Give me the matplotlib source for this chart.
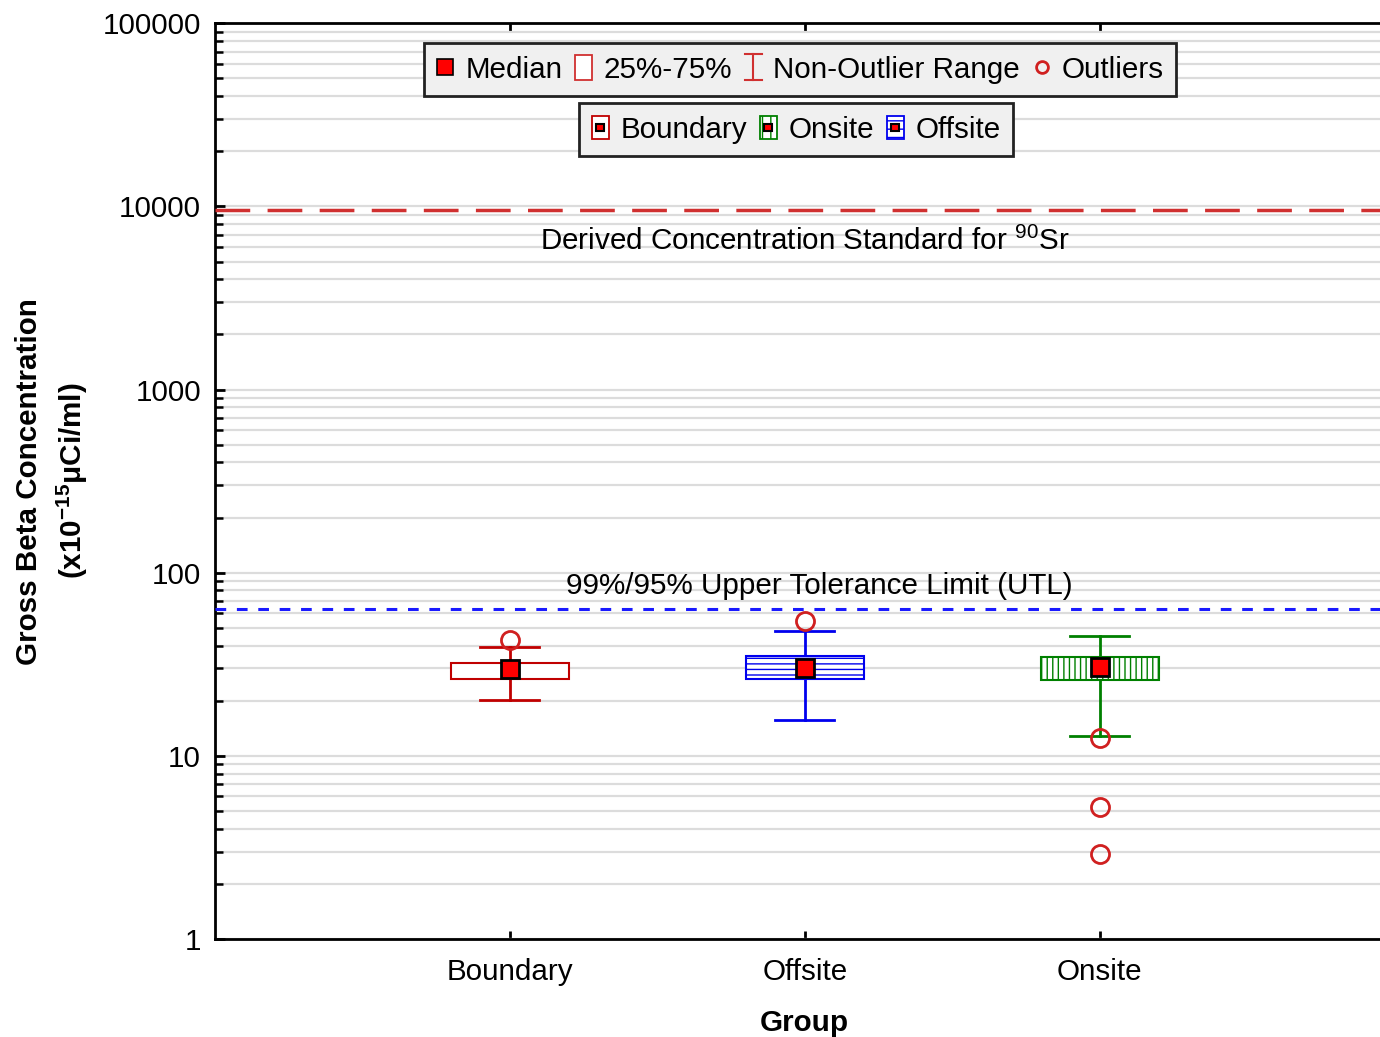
import matplotlib
matplotlib.use("Agg")
import matplotlib.pyplot as plt
from matplotlib.lines import Line2D
from matplotlib.patches import Rectangle
from matplotlib.legend_handler import HandlerBase
import matplotlib.ticker as mticker

plt.rcParams['font.family'] = ['Liberation Sans', 'DejaVu Sans']
plt.rcParams['mathtext.fontset'] = 'custom'
plt.rcParams['mathtext.rm'] = 'Liberation Sans'
plt.rcParams['mathtext.bf'] = 'Liberation Sans:bold'
plt.rcParams['hatch.linewidth'] = 1.0

# ---- data ----
groups = ["Boundary", "Offsite", "Onsite"]
medians = [29.8, 30.1, 30.5]
q1 = [26.3, 26.3, 25.9]
q3 = [32.1, 35.1, 34.6]
whis_lo = [20.2, 15.7, 12.8]
whis_hi = [39.2, 48.0, 45.1]
outliers = [[42.9], [54.4], [12.5, 5.25, 2.91]]
dcs_value = 9600
utl_value = 63.3
yticks = [1, 10, 100, 1000, 10000, 100000]

colors = ["#c00000", "#0000ee", "#008000"]
hatches = [None, "---", "|||"]

FS = 21.3

fig = plt.figure(figsize=(13.8, 10.37), dpi=100)
ax = fig.add_axes([0.1558, 0.0945, 0.8442, 0.883])

ax.set_yscale('log')
ax.set_ylim(1, 100000)
ax.set_xlim(0, 3.95)

# grid
ax.yaxis.grid(True, which='both', color='#dcdcdc', linewidth=1.6, zorder=0)
ax.set_axisbelow(True)

positions = [1, 2, 3]
stats = []
for i in range(3):
    stats.append(dict(med=medians[i], q1=q1[i], q3=q3[i],
                      whislo=whis_lo[i], whishi=whis_hi[i],
                      fliers=outliers[i], label=groups[i]))

for i in range(3):
    c = colors[i]
    bp = ax.bxp([stats[i]], positions=[positions[i]], widths=0.4,
                patch_artist=True, showfliers=True,
                boxprops=dict(facecolor='white', edgecolor=c, linewidth=1.5,
                              hatch=hatches[i]),
                whiskerprops=dict(color=c, linewidth=2),
                capprops=dict(color=c, linewidth=2),
                medianprops=dict(linewidth=0, color=c),
                flierprops=dict(marker='o', markerfacecolor='none',
                                markeredgecolor='#d02020', markersize=13,
                                markeredgewidth=2),
                capwidths=0.2, manage_ticks=False, zorder=3)
    for w in bp['whiskers']:
        w.set_zorder(2)

ax.plot(positions, medians, linestyle='none', marker='s', markersize=13,
        markerfacecolor='#ff0000', markeredgecolor='black',
        markeredgewidth=2, zorder=5)

# reference lines
ax.axhline(dcs_value, color='#d03030', linewidth=2.5, dashes=(10, 5), zorder=4)
ax.axhline(utl_value, color='#1a1aff', linewidth=2.2, dashes=(3.5, 3.5), zorder=4)

ax.text(2.0, 6500, "Derived Concentration Standard for $^{90}$Sr",
        ha='center', va='center', fontsize=FS)
ax.text(2.05, 85, "99%/95% Upper Tolerance Limit (UTL)",
        ha='center', va='center', fontsize=FS)

# axes styling
ax.set_yticks(yticks)
ax.yaxis.set_major_formatter(mticker.FuncFormatter(lambda v, p: f"{int(v)}"))
ax.yaxis.set_minor_locator(mticker.LogLocator(base=10, subs=range(2, 10), numticks=20))
ax.yaxis.set_minor_formatter(mticker.NullFormatter())
ax.set_xticks(positions)
ax.set_xticklabels(groups)
ax.tick_params(axis='y', which='major', direction='in', length=7, width=2,
               labelsize=FS, pad=10)
ax.tick_params(axis='y', which='minor', direction='in', length=6, width=1.8)
ax.tick_params(axis='x', direction='in', length=6, width=2, labelsize=FS,
               pad=14, top=True)
for s in ['left', 'bottom', 'top']:
    ax.spines[s].set_linewidth(2)
ax.spines['right'].set_visible(False)

ax.set_xlabel("Group", fontsize=FS, fontweight='bold', labelpad=16)
ax.xaxis.label.set_x(0.5056)
ax.set_ylabel("Gross Beta Concentration\n(x10$^{\\mathbf{-15}}$$\\mathbf{\\mu}$Ci/ml)",
              fontsize=FS, fontweight='bold', labelpad=9, linespacing=1.4)


# ---- legend handlers ----
class WhiskerHandler(HandlerBase):
    def create_artists(self, legend, orig_handle, xd, yd, w, h, fontsize, trans):
        cx = xd + w / 2
        y0 = yd + h / 2 - 9.5
        y1 = yd + h / 2 + 9.5
        cw = 6
        lines = [Line2D([cx, cx], [y0, y1], color='#d03030', lw=1.5),
                 Line2D([cx - cw, cx + cw], [y0, y0], color='#d03030', lw=1.5),
                 Line2D([cx - cw, cx + cw], [y1, y1], color='#d03030', lw=1.5)]
        for l in lines:
            l.set_transform(trans)
        return lines


class GroupHandler(HandlerBase):
    def __init__(self, color, hatch):
        super().__init__()
        self.color = color
        self.hatch = hatch

    def create_artists(self, legend, orig_handle, xd, yd, w, h, fontsize, trans):
        bw = 12
        bh = 17
        x0 = xd + (w - bw) / 2
        y0 = yd + (h - bh) / 2
        r = Rectangle((x0, y0), bw, bh, facecolor='white', edgecolor=self.color,
                      hatch=self.hatch, lw=1.3, transform=trans)
        s = 5.5
        sq = Rectangle((xd + w / 2 - s / 2, yd + h / 2 - s / 2), s, s,
                       facecolor='#ff0000', edgecolor='black', lw=1.5,
                       transform=trans)
        return [r, sq]


class BoxHandler(HandlerBase):
    def create_artists(self, legend, orig_handle, xd, yd, w, h, fontsize, trans):
        bw = 12
        bh = 18
        r = Rectangle((xd + (w - bw) / 2, yd + (h - bh) / 2), bw, bh,
                      facecolor='white', edgecolor='#d03030', lw=1.3,
                      transform=trans)
        return [r]


class Dummy:
    def __init__(self, n):
        self.n = n


h_median = Line2D([], [], linestyle='none', marker='s', markersize=11.5,
                  markerfacecolor='#ff0000', markeredgecolor='black',
                  markeredgewidth=1.2)
h_box = Dummy('box')
h_whis = Dummy('whis')
h_out = Line2D([], [], linestyle='none', marker='o', markersize=8.5,
               markerfacecolor='none', markeredgecolor='#d02020',
               markeredgewidth=2)

common = dict(loc='center', fontsize=FS, frameon=True, fancybox=False,
              facecolor='#f0f0f0', edgecolor='#222222', framealpha=1,
              handlelength=0.6, handletextpad=0.38, columnspacing=0.42,
              borderpad=0.42, borderaxespad=0)

leg1 = ax.legend([h_median, h_box, h_whis, h_out],
                 ["Median", "25%-75%", "Non-Outlier Range", "Outliers"],
                 handler_map={h_box: BoxHandler(), h_whis: WhiskerHandler()},
                 ncol=4, bbox_to_anchor=(0.5021, 0.9495), **common)
leg1.get_frame().set_linewidth(2)
ax.add_artist(leg1)

g1, g2, g3 = Dummy('b'), Dummy('on'), Dummy('off')
leg2 = ax.legend([g1, g2, g3], ["Boundary", "Onsite", "Offsite"],
                 handler_map={g1: GroupHandler('#c00000', None),
                              g2: GroupHandler('#008000', '||'),
                              g3: GroupHandler('#0000ee', '--')},
                 ncol=3, bbox_to_anchor=(0.4987, 0.8838), **common)
leg2.get_frame().set_linewidth(2)

fig.savefig("out.png", dpi=100)
